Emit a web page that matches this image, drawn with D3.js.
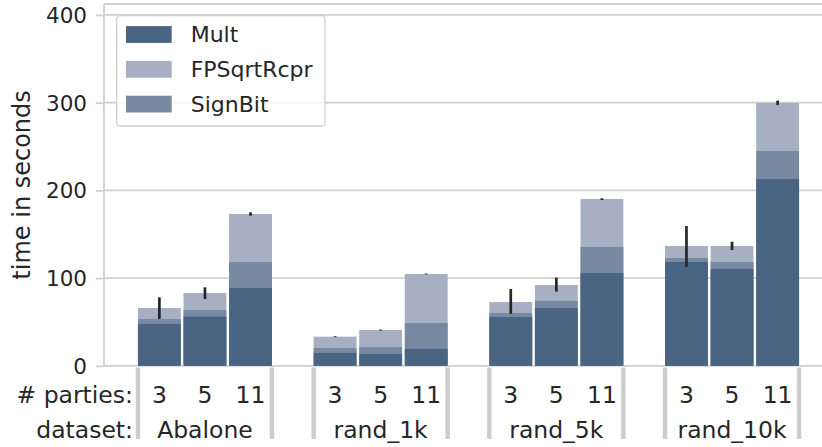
<!DOCTYPE html>
<html>
<head>
<meta charset="utf-8">
<script src="https://cdn.jsdelivr.net/npm/d3@7"></script>
<style>
    body { margin: 0; background: #ffffff; }
    svg { display: block; }
    .font { font-family: "DejaVu Sans", sans-serif; fill: #262626; }
</style>
</head>
<body>
<svg id="chart" width="822" height="447"></svg>
<script>
const SVG_WIDTH = 822;
const SVG_HEIGHT = 447;

// data (seconds)
var datasets = ["Abalone", "rand_1k", "rand_5k", "rand_10k"];
var parties = ["3", "5", "11"];
var multTime = [[47.7, 56.0, 88.7], [14.6, 13.5, 19.2], [55.6, 65.9, 105.8], [118.4, 110.4, 213.0]];
var signBitTime = [[5.7, 7.6, 29.7], [5.7, 7.9, 29.6], [4.6, 8.0, 29.7], [4.5, 8.0, 31.9]];
var fpSqrtRcprTime = [[12.5, 19.4, 54.7], [12.9, 19.4, 55.9], [12.5, 18.2, 54.7], [13.7, 18.2, 54.8]];
var errLow = [[53.4, 76.2, 171.2], [32.7, 40.2, 104.2], [59.1, 84.5, 189.0], [112.7, 132.0, 297.4]];
var errHigh = [[78.1, 89.5, 175.0], [33.7, 41.4, 105.2], [87.6, 100.5, 191.0], [159.4, 141.5, 302.3]];
var yTicks = [0, 100, 200, 300, 400];
var legendNames = ["Mult", "FPSqrtRcpr", "SignBit"];

const COLOR_MULT = "#4a6584";
const COLOR_FP = "#a6b0c2";
const COLOR_SIGN = "#778aa1";
const GRID_COLOR = "#d0d0d0";

const PLOT_LEFT = 104;
const PLOT_TOP = 4;
const PLOT_BOTTOM = 365.8;

var svg = d3.select("#chart");

var yScale = d3.scaleLinear()
    .domain([0, 412.5])
    .range([PLOT_BOTTOM, PLOT_TOP]);

var groupScale = d3.scaleBand()
    .domain(datasets)
    .range([117.1, 819.9])
    .paddingInner(0.2373)
    .paddingOuter(0.1187);
var partyScale = d3.scaleBand()
    .domain(parties)
    .range([0, groupScale.bandwidth()])
    .paddingInner(0.06);

// grid
svg.append("g")
    .selectAll("line")
    .data(yTicks)
    .enter()
    .append("line")
    .attr("x1", PLOT_LEFT)
    .attr("x2", SVG_WIDTH)
    .attr("y1", function(d) { return yScale(d); })
    .attr("y2", function(d) { return yScale(d); })
    .attr("stroke", GRID_COLOR)
    .attr("stroke-width", 1.8);

// spines
svg.append("line")
    .attr("x1", PLOT_LEFT).attr("x2", SVG_WIDTH)
    .attr("y1", PLOT_TOP).attr("y2", PLOT_TOP)
    .attr("stroke", GRID_COLOR).attr("stroke-width", 1.8);

var yAxis = d3.axisLeft()
    .scale(yScale)
    .tickValues(yTicks)
    .tickSize(8)
    .tickPadding(9);
var yAxisGroup = svg.append("g")
    .attr("transform", "translate(" + PLOT_LEFT + ",0)")
    .call(yAxis);
yAxisGroup.select(".domain")
    .attr("d", "M0," + PLOT_BOTTOM + "V" + PLOT_TOP)
    .attr("stroke", GRID_COLOR)
    .attr("stroke-width", 1.8);
yAxisGroup.selectAll(".tick line")
    .attr("stroke", GRID_COLOR)
    .attr("stroke-width", 1.8);
yAxisGroup.selectAll(".tick text")
    .classed("font", true)
    .attr("font-size", 21.5)
    .attr("dy", "0.35em");
yAxisGroup.attr("font-family", null).attr("font-size", null);

svg.append("text")
    .classed("font", true)
    .attr("transform", "translate(30," + ((PLOT_TOP + PLOT_BOTTOM) / 2) + ") rotate(-90)")
    .attr("text-anchor", "middle")
    .attr("font-size", 24)
    .text("time in seconds");

// bars
var barData = [];
for (var g = 0; g < datasets.length; g++) {
    for (var p = 0; p < parties.length; p++) {
        barData.push({
            dataset: datasets[g],
            party: parties[p],
            mult: multTime[g][p],
            sign: signBitTime[g][p],
            fp: fpSqrtRcprTime[g][p],
            lo: errLow[g][p],
            hi: errHigh[g][p]
        });
    }
}
function barX(d) {
    return groupScale(d.dataset) + partyScale(d.party);
}
var layers = [
    {color: COLOR_FP, top: function(d) { return d.mult + d.sign + d.fp; }},
    {color: COLOR_SIGN, top: function(d) { return d.mult + d.sign; }},
    {color: COLOR_MULT, top: function(d) { return d.mult; }}
];
layers.forEach(function(layer) {
    svg.append("g")
        .selectAll("rect")
        .data(barData)
        .enter()
        .append("rect")
        .attr("x", barX)
        .attr("width", partyScale.bandwidth())
        .attr("y", function(d) { return yScale(layer.top(d)); })
        .attr("height", function(d) { return yScale(0) - yScale(layer.top(d)); })
        .attr("fill", layer.color);
});

svg.append("g")
    .selectAll("line")
    .data(barData)
    .enter()
    .append("line")
    .attr("x1", function(d) { return barX(d) + partyScale.bandwidth() / 2; })
    .attr("x2", function(d) { return barX(d) + partyScale.bandwidth() / 2; })
    .attr("y1", function(d) { return yScale(d.lo); })
    .attr("y2", function(d) { return yScale(d.hi); })
    .attr("stroke", "#262626")
    .attr("stroke-width", 2.7);

// group separators
var sepX = [];
datasets.forEach(function(d) {
    sepX.push(groupScale(d));
    sepX.push(groupScale(d) + groupScale.bandwidth());
});
svg.append("g")
    .selectAll("rect")
    .data(sepX)
    .enter()
    .append("rect")
    .attr("x", function(d) { return d - 2.2; })
    .attr("width", 4.4)
    .attr("y", 367.5)
    .attr("height", 71.5)
    .attr("fill", "#cccccc");

// bottom labels
const ROW1_Y = 403;
const ROW2_Y = 438;
svg.append("text")
    .classed("font", true)
    .attr("x", 133)
    .attr("y", ROW1_Y)
    .attr("text-anchor", "end")
    .attr("font-size", 23.5)
    .text("# parties:");
svg.append("text")
    .classed("font", true)
    .attr("x", 133)
    .attr("y", ROW2_Y)
    .attr("text-anchor", "end")
    .attr("font-size", 23.5)
    .text("dataset:");
svg.append("g")
    .selectAll("text")
    .data(barData)
    .enter()
    .append("text")
    .classed("font", true)
    .attr("x", function(d) { return barX(d) + partyScale.bandwidth() / 2; })
    .attr("y", ROW1_Y)
    .attr("text-anchor", "middle")
    .attr("font-size", 23.5)
    .text(function(d) { return d.party; });
svg.append("g")
    .selectAll("text")
    .data(datasets)
    .enter()
    .append("text")
    .classed("font", true)
    .attr("x", function(d) { return groupScale(d) + groupScale.bandwidth() / 2; })
    .attr("y", ROW2_Y)
    .attr("text-anchor", "middle")
    .attr("font-size", 23.5)
    .text(function(d) { return d; });

// legend
var legendColors = [COLOR_MULT, COLOR_FP, COLOR_SIGN];
var legend = svg.append("g");
legend.append("rect")
    .attr("x", 116.7)
    .attr("y", 15.7)
    .attr("width", 208.3)
    .attr("height", 110.3)
    .attr("rx", 3.5)
    .attr("fill", "#ffffff")
    .attr("fill-opacity", 0.8)
    .attr("stroke", GRID_COLOR)
    .attr("stroke-width", 1.3);
var legendRows = legend.selectAll(".legend-row")
    .data(legendNames)
    .enter()
    .append("g")
    .attr("transform", function(d, i) { return "translate(0," + (34.5 + i * 34.8) + ")"; });
legendRows.append("rect")
    .attr("x", 126)
    .attr("y", -8.4)
    .attr("width", 45.7)
    .attr("height", 16.8)
    .attr("fill", function(d, i) { return legendColors[i]; });
legendRows.append("text")
    .classed("font", true)
    .attr("x", 190.7)
    .attr("dy", "0.36em")
    .attr("font-size", 22)
    .text(function(d) { return d; });
</script>
</body>
</html>
